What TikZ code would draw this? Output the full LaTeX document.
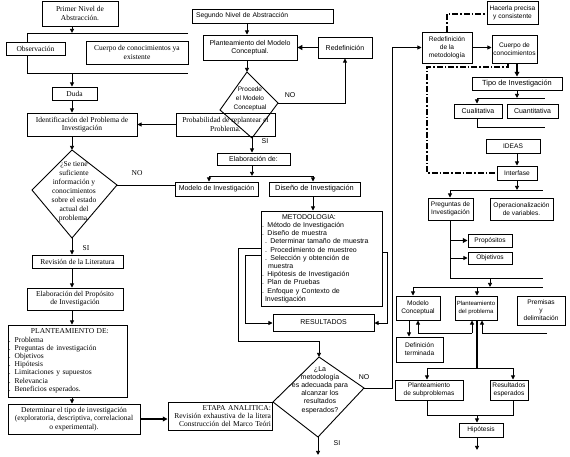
\documentclass[tikz,border=0pt]{standalone}
\usepackage{fontspec}
\setmainfont{Liberation Serif}
\setsansfont{Liberation Sans}
\usetikzlibrary{arrows.meta}
\begin{document}
\begin{tikzpicture}[x=1pt,y=-1pt,
  sb/.style={draw, fill=white, line width=0.9pt, inner sep=1pt, align=center, font=\sffamily\fontsize{7}{8.2}\selectfont},
  sr/.style={sb, font=\sffamily\fontsize{6.6}{8}\selectfont},
  rb/.style={draw, fill=white, line width=0.9pt, inner sep=1pt, align=center, font=\rmfamily\fontsize{7.5}{8.2}\selectfont},
  ln/.style={line width=0.9pt},
  arr/.style={line width=0.9pt, -{Triangle[length=4.2pt,width=4pt]}},
  tarr/.style={line width=1.9pt, -{Triangle[length=4.8pt,width=4.8pt]}},
  dd/.style={line width=1.5pt, dash pattern=on 6pt off 2pt on 1.5pt off 2pt},
  slab/.style={inner sep=0pt, font=\sffamily\fontsize{7}{8}\selectfont},
  rlab/.style={inner sep=0pt, font=\rmfamily\fontsize{7.5}{8}\selectfont},
  dtxt/.style={inner sep=0pt, align=center}
]
\fill[white] (0,0) rectangle (570,456);
\useasboundingbox (0,0) rectangle (570,456);

% ---------------- left column ----------------
\coordinate (cL) at (72,0);
\coordinate (bt) at (27,33); \coordinate (btr) at (188,33);
\coordinate (bb) at (27,73); \coordinate (bbr) at (188,73);
\draw[ln] (btr) -- (bt) -- (bb) -- (bbr);

\node[rb, minimum width=76pt, minimum height=25pt] (p1) at (80,13.5) {Primer Nivel de\\Abstracción.};
\node[rb, minimum width=59pt, minimum height=13pt] (obs) at (35.5,48.5) {Observación};
\node[rb, minimum width=102pt, minimum height=23pt] (cue) at (137,52.5) {Cuerpo de conocimientos ya\\existente};
\node[rb, minimum width=45pt, minimum height=13pt] (duda) at (74.5,93.5) {Duda};
\node[rb, minimum width=110pt, minimum height=23pt] (iden) at (82,124.5) {Identificación del Problema de\\Investigación};

\coordinate (d1t) at (72,150); \coordinate (d1r) at (117,185);
\coordinate (d1b) at (72,238); \coordinate (d1l) at (32,190);
\draw[ln] (d1t) -- (d1r) -- (d1b) -- (d1l) -- cycle;
\node[dtxt, font=\rmfamily\fontsize{7.5}{9}\selectfont] (d1txt) at (74,192)
  {¿Se tiene\\suficiente\\información y\\conocimientos\\sobre el estado\\actual del\\problema.};

\node[rb, minimum width=91pt, minimum height=13pt] (rev) at (77.5,261.5) {Revisión de la Literatura};
\node[rb, minimum width=96pt, minimum height=22pt] (elab) at (75,299) {Elaboración del Propósito\\de Investigación};
\node[rb, align=left, text width=117pt, minimum height=72pt] (plan) at (67.5,361)
  {\hspace*{22pt}PLANTEAMIENTO DE:\\. Problema\\. Preguntas de investigación\\. Objetivos\\. Hipótesis\\. Limitaciones y supuestos\\. Relevancia\\. Beneficios esperados.};
\node[rb, minimum width=132pt, minimum height=30pt] (det) at (74,419)
  {Determinar el tipo de investigación\\(exploratoria, descriptiva, correlacional\\o experimental).};
\node[rb, align=right, text width=102pt, minimum height=28pt] (etapa) at (220,416)
  {ETAPA ANALITICA:\hspace*{4pt}\\Revisión exhaustiva de la litera\\Construcción del Marco Teóri};

\draw[arr] (p1.south -| cL) -- (bt -| cL);
\draw[arr] (bb -| cL) -- (duda.north -| cL);
\draw[arr] (duda.south -| cL) -- (iden.north -| cL);
\draw[arr] (iden.south -| cL) -- (d1t);
\draw[arr] (d1b) -- (rev.north -| d1b);
\draw[arr] (rev.south -| cL) -- (elab.north -| cL);
\draw[arr] (elab.south -| cL) -- (plan.north -| cL);
\draw[arr] (plan.south -| cL) -- (det.north -| cL);
\draw[tarr] (det.east) -- (det.east -| etapa.west);
\node[rlab] (no1) at (137,173) {NO};
\node[rlab] (si1) at (86,248) {SI};

% ---------------- middle column ----------------
\coordinate (cM) at (247,0);
\node[sb, font=\sffamily\fontsize{6.8}{8}\selectfont, align=left, text width=139pt, minimum height=14pt] (seg) at (262.5,16) {\hspace*{3pt}Segundo Nivel de Abstracción};
\node[sb, minimum width=94pt, minimum height=25pt] (pmc) at (250,47.5) {Planteamiento del Modelo\\Conceptual.};
\node[sb, minimum width=54pt, minimum height=21pt] (redef) at (345,47.5) {Redefinición};

\coordinate (d2t) at (247,72); \coordinate (d2r) at (278,103);
\coordinate (d2b) at (252,138); \coordinate (d2l) at (220,110);
\draw[ln] (d2t) -- (d2r) -- (d2b) -- (d2l) -- cycle;
\node[dtxt, font=\sffamily\fontsize{6.5}{8.8}\selectfont] (d2txt) at (250,99) {Procede\\el Modelo\\Conceptual};
\node[draw, line width=0.9pt, inner sep=1pt, align=center, font=\rmfamily\fontsize{7.5}{8.2}\selectfont,
  minimum width=99pt, minimum height=23pt] (prob) at (225.5,124.5) {Probabilidad de replantear el\\Problema.};

\node[sb, minimum width=73pt, minimum height=12pt] (elab2) at (253.5,159) {Elaboración de:};
\node[sb, minimum width=83pt, minimum height=14pt] (mod) at (216.5,189) {Modelo de Investigación};
\node[sb, font=\sffamily\fontsize{7.4}{8}\selectfont, minimum width=91pt, minimum height=14pt] (dis) at (314.5,189) {Diseño de Investigación};
\node[sb, align=left, text width=119pt, minimum height=95pt] (met) at (321.5,258.5)
  {\hspace*{20pt}METODOLOGIA:\\. Método de Investigación\\. Diseño de muestra\\\hspace*{3pt}. Determinar tamaño de muestra\\\hspace*{3pt}. Procedimiento de muestreo\\\hspace*{3pt}. Selección y obtención de\\\hspace*{6pt}muestra\\. Hipótesis de Investigación\\. Plan de Pruebas\\. Enfoque y Contexto de\\\hspace*{3pt}Investigación};
\node[sb, minimum width=101pt, minimum height=17pt] (res) at (323.5,322.5) {RESULTADOS};

\coordinate (d3t) at (319,357); \coordinate (d3r) at (364,388);
\coordinate (d3b) at (318,437); \coordinate (d3l) at (273,402);
\draw[ln] (d3t) -- (d3r) -- (d3b) -- (d3l) -- cycle;
\node[dtxt, font=\sffamily\fontsize{7}{8.2}\selectfont] (d3txt) at (320,390)
  {¿La\\metodología\\es adecuada para\\alcanzar los\\resultados\\esperados?};

\draw[arr] (seg.south -| cM) -- (pmc.north -| cM);
\draw[arr] (pmc.south -| cM) -- (d2t);
\draw[tarr] (redef.west) -- (pmc.east);
\draw[arr] (d2r) -- (d2r -| redef) -- (redef.south);
\draw[arr] (prob.west) -- (prob.west -| iden.east);
\draw[ln] (d1r) -- (d1r -| mod.west);
\draw[arr] (d2b) -- (d2b |- elab2.north);
\coordinate (e2j) at (252,176); \coordinate (e2l) at (209,176); \coordinate (e2r) at (313,176);
\draw[arr] (elab2.south -| e2j) -- (e2j);
\draw[ln] (e2l) -- (e2r);
\draw[arr] (e2l) -- (e2l |- mod.north);
\draw[arr] (e2r) -- (e2r |- dis.north);
\draw[arr] (dis.south -| e2r) -- (e2r |- met.north);

\coordinate (ol1) at (238,248); \coordinate (ol2) at (238,341); \coordinate (ol3) at (319,341);
\draw[ln] (ol1 -| met.west) -- (ol1) -- (ol2) -- (ol3);
\draw[arr] (ol3) -- (d3t);
\coordinate (il1) at (245,255); \coordinate (il2) at (245,323);
\draw[arr] (il1 -| met.west) -- (il1) -- (il2) -- (il2 -| res.west);
\coordinate (ir1) at (387,252); \coordinate (ir2) at (387,323);
\draw[arr] (ir1 -| met.east) -- (ir1) -- (ir2) -- (ir2 -| res.east);

\coordinate (d3e) at (318,455);
\draw[arr] (d3b) -- (d3e);
\node[slab] (no2) at (290,95) {NO};
\node[slab] (si2) at (265,141) {SI};
\node[slab] (no3) at (364,377) {NO};
\node[slab] (si3) at (337,443) {SI};

% ---------------- right column ----------------
\node[sr, minimum width=51pt, minimum height=23pt] (hac) at (512.5,12.5) {Hacerla precisa\\y consistente};
\node[sr, minimum width=50pt, minimum height=31pt] (rdm) at (447,47.5) {Redefinición\\de la\\metodología};
\node[sr, minimum width=45pt, minimum height=28pt] (cc) at (514.5,49) {Cuerpo de\\conocimientos};
\node[sb, font=\sffamily\fontsize{7.4}{8}\selectfont, minimum width=90pt, minimum height=13pt] (tipo) at (517,83.5) {Tipo de Investigación};
\node[sb, minimum width=48pt, minimum height=14pt] (cual) at (478,111) {Cualitativa};
\node[sb, minimum width=51pt, minimum height=14pt] (cuan) at (532.5,111) {Cuantitativa};
\node[sr, minimum width=54pt, minimum height=14pt] (ideas) at (513,146) {IDEAS};
\node[sr, minimum width=40pt, minimum height=14pt] (inter) at (517,173) {Interfase};
\node[sr, minimum width=45pt, minimum height=22pt] (preg) at (450.5,209) {Preguntas de\\Investigación};
\node[sr, minimum width=63pt, minimum height=22pt] (oper) at (521.5,209) {Operacionalización\\de variables.};
\node[sr, minimum width=44pt, minimum height=13pt] (prop) at (490,240.5) {Propósitos};
\node[sr, minimum width=44pt, minimum height=12pt] (obj) at (490,258) {Objetivos};
\node[sr, minimum width=44pt, minimum height=24pt] (mc) at (418,308) {Modelo\\Conceptual};
\node[sr, font=\sffamily\fontsize{6}{8}\selectfont, minimum width=42pt, minimum height=24pt] (pp) at (476,308) {Planteamiento\\del problema};
\node[sr, minimum width=48pt, minimum height=29pt] (pd) at (541,310.5) {Premisas\\y\\delimitación};
\node[sr, minimum width=47pt, minimum height=25pt] (def) at (419.5,349.5) {Definición\\terminada};
\node[sr, minimum width=68pt, minimum height=20pt] (ps) at (429,390) {Planteamiento\\de subproblemas};
\node[sr, minimum width=38pt, minimum height=20pt] (re) at (509,390) {Resultados\\esperados};
\node[sr, minimum width=44pt, minimum height=14pt] (hip) at (481,430) {Hipótesis};

\coordinate (nv1) at (392,388); \coordinate (nv2) at (392,47.5);
\draw[arr] (d3r) -- (nv1) -- (nv2) -- (nv2 -| rdm.west);
\draw[arr] (rdm.east) -- (rdm.east -| cc.west);
\coordinate (dd1) at (447,14);
\draw[dd] (rdm.north) -- (dd1) -- (dd1 -| hac.west);
\coordinate (dd2a) at (508,67); \coordinate (dd2b) at (427,67); \coordinate (dd2c) at (427,173);
\draw[dd] (cc.south -| dd2a) -- (dd2a) -- (dd2b) -- (dd2c) -- (dd2c -| inter.west);
\coordinate (cR) at (517,0);
\draw[tarr] (cc.south -| cR) -- (tipo.north -| cR);
\coordinate (tj) at (517,98); \coordinate (tl) at (477,98); \coordinate (tr) at (545,98);
\draw[arr] (tipo.south -| tj) -- (tj);
\draw[ln] (tl) -- (tr);
\draw[arr] (tl) -- (tl |- cual.north);
\coordinate (cb1) at (477,127); \coordinate (cb2) at (545,127);
\draw[ln] (cual.south -| cb1) -- (cb1) -- (cb2);
\draw[arr] (ideas.south -| cR) -- (inter.north -| cR);
\coordinate (ij) at (517,190); \coordinate (il) at (450,190); \coordinate (ir) at (543,190);
\draw[arr] (inter.south -| ij) -- (ij);
\draw[ln] (il) -- (ir);
\draw[arr] (il) -- (il |- preg.north);
\coordinate (pl) at (450,278); \coordinate (pr) at (543,278);
\draw[ln] (preg.south -| pl) -- (pl) -- (pr);
\coordinate (pa) at (450,240.5);
\draw[tarr] (pa) -- (prop.west);
\coordinate (oa) at (450,258);
\draw[arr] (oa) -- (obj.west);
\coordinate (mj1) at (490,278); \coordinate (mj2) at (490,287);
\draw[arr] (mj1) -- (mj2);
\coordinate (ml) at (413,287); \coordinate (mr) at (543,287); \coordinate (mm) at (477,287);
\draw[ln] (ml) -- (mr);
\draw[arr] (ml) -- (ml |- mc.north);
\draw[arr] (mm) -- (mm |- pp.north);
\coordinate (dfx) at (409,0);
\draw[arr] (mc.south -| dfx) -- (def.north -| dfx);
\coordinate (u1) at (418,333); \coordinate (u2) at (472,333);
\draw[ln] (u1) -- (u2);
\draw[arr] (u1) -- (u1 |- mc.south);
\draw[arr] (u2) -- (u2 |- pp.south);
\coordinate (u3) at (482,333); \coordinate (u4) at (547,333);
\draw[ln] (u4) -- (u3);
\draw[arr] (u3) -- (u3 |- pp.south);
\coordinate (tv) at (477,368);
\draw[line width=2.2pt] (pp.south -| tv) -- (tv);
\coordinate (sl) at (427,368); \coordinate (sr) at (513,368);
\draw[ln] (sl) -- (sr);
\draw[arr] (sl) -- (sl |- ps.north);
\draw[arr] (sr) -- (sr |- re.north);
\coordinate (bl) at (427,415); \coordinate (br) at (513,415); \coordinate (bm) at (477,415);
\draw[ln] (ps.south -| bl) -- (bl) -- (br) -- (br |- re.south);
\draw[arr] (bm) -- (hip.north -| bm);
\coordinate (he) at (477,450);
\draw[arr] (hip.south -| bm) -- (he);
\end{tikzpicture}
\end{document}
